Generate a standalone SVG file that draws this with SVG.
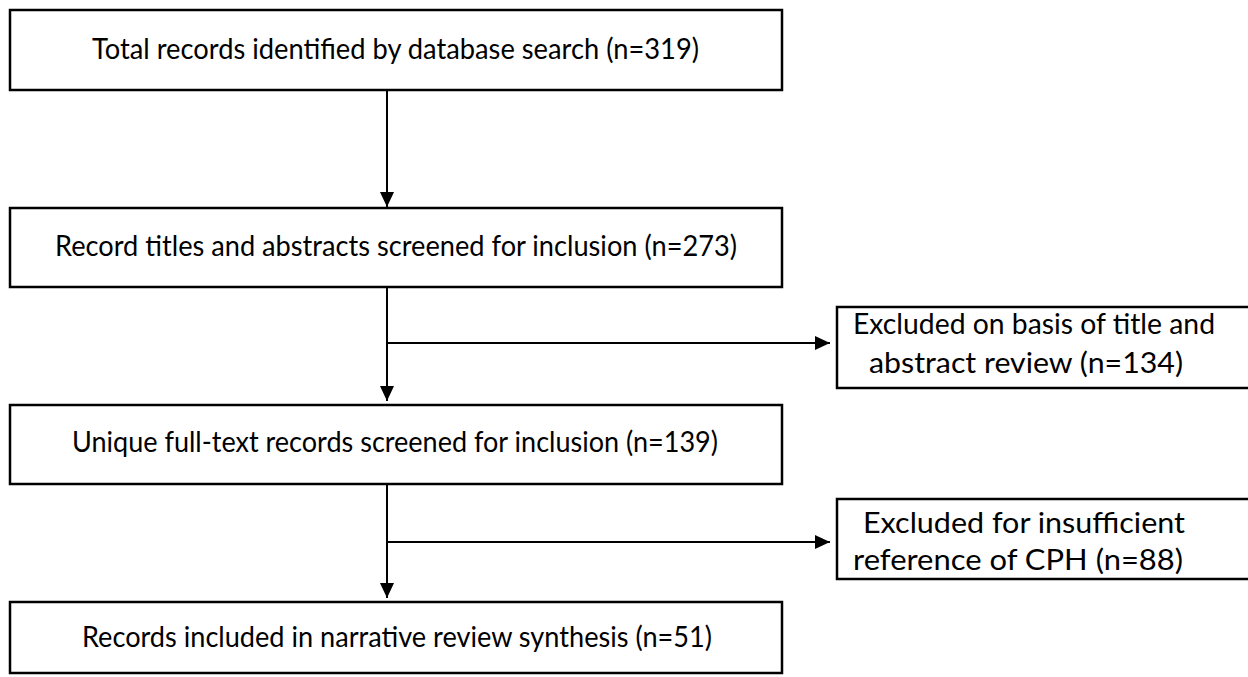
<svg xmlns="http://www.w3.org/2000/svg" width="1248" height="677" viewBox="0 0 1248 677">
<style>
.box{fill:#fff;stroke:#000;stroke-width:2.5}
.t{font-family:Lato,"Liberation Sans",sans-serif;font-size:29px;fill:#000}
.c{fill:none;stroke:#000;stroke-width:2}
</style>
<defs>
<marker id="ah" markerUnits="userSpaceOnUse" markerWidth="16" markerHeight="14" refX="15" refY="7" orient="auto">
<path d="M0,0 L15,7 L0,14 Z" fill="#000"/>
</marker>
</defs>
<rect width="1248" height="677" fill="#fff"/>
<g id="connectors">
<line class="c" x1="387" y1="90" x2="387" y2="207" marker-end="url(#ah)"/>
<line class="c" x1="387" y1="287" x2="387" y2="401" marker-end="url(#ah)"/>
<line class="c" x1="388" y1="343" x2="830" y2="343" marker-end="url(#ah)"/>
<line class="c" x1="387" y1="484" x2="387" y2="598" marker-end="url(#ah)"/>
<line class="c" x1="388" y1="542" x2="830" y2="542" marker-end="url(#ah)"/>
</g>
<g id="n1">
<rect class="box" x="10" y="10" width="772" height="80"/>
<text class="t" x="92" y="59" textLength="607" lengthAdjust="spacingAndGlyphs">Total records identified by database search (n=319)</text>
</g>
<g id="n2">
<rect class="box" x="10" y="208" width="772" height="79"/>
<text class="t" x="55" y="256" textLength="682" lengthAdjust="spacingAndGlyphs">Record titles and abstracts screened for inclusion (n=273)</text>
</g>
<g id="n3">
<rect class="box" x="837" y="307" width="420" height="81"/>
<text class="t" x="853" y="334" textLength="362" lengthAdjust="spacingAndGlyphs">Excluded on basis of title and</text>
<text class="t" x="869" y="373" textLength="314" lengthAdjust="spacingAndGlyphs">abstract review (n=134)</text>
</g>
<g id="n4">
<rect class="box" x="10" y="405" width="772" height="79"/>
<text class="t" x="72" y="452" textLength="646" lengthAdjust="spacingAndGlyphs">Unique full-text records screened for inclusion (n=139)</text>
</g>
<g id="n5">
<rect class="box" x="837" y="499" width="420" height="80"/>
<text class="t" x="863" y="533" textLength="322" lengthAdjust="spacingAndGlyphs">Excluded for insufficient</text>
<text class="t" x="853" y="570" textLength="330" lengthAdjust="spacingAndGlyphs">reference of CPH (n=88)</text>
</g>
<g id="n6">
<rect class="box" x="10" y="602" width="772" height="71"/>
<text class="t" x="82" y="647" textLength="630" lengthAdjust="spacingAndGlyphs">Records included in narrative review synthesis (n=51)</text>
</g>
</svg>
